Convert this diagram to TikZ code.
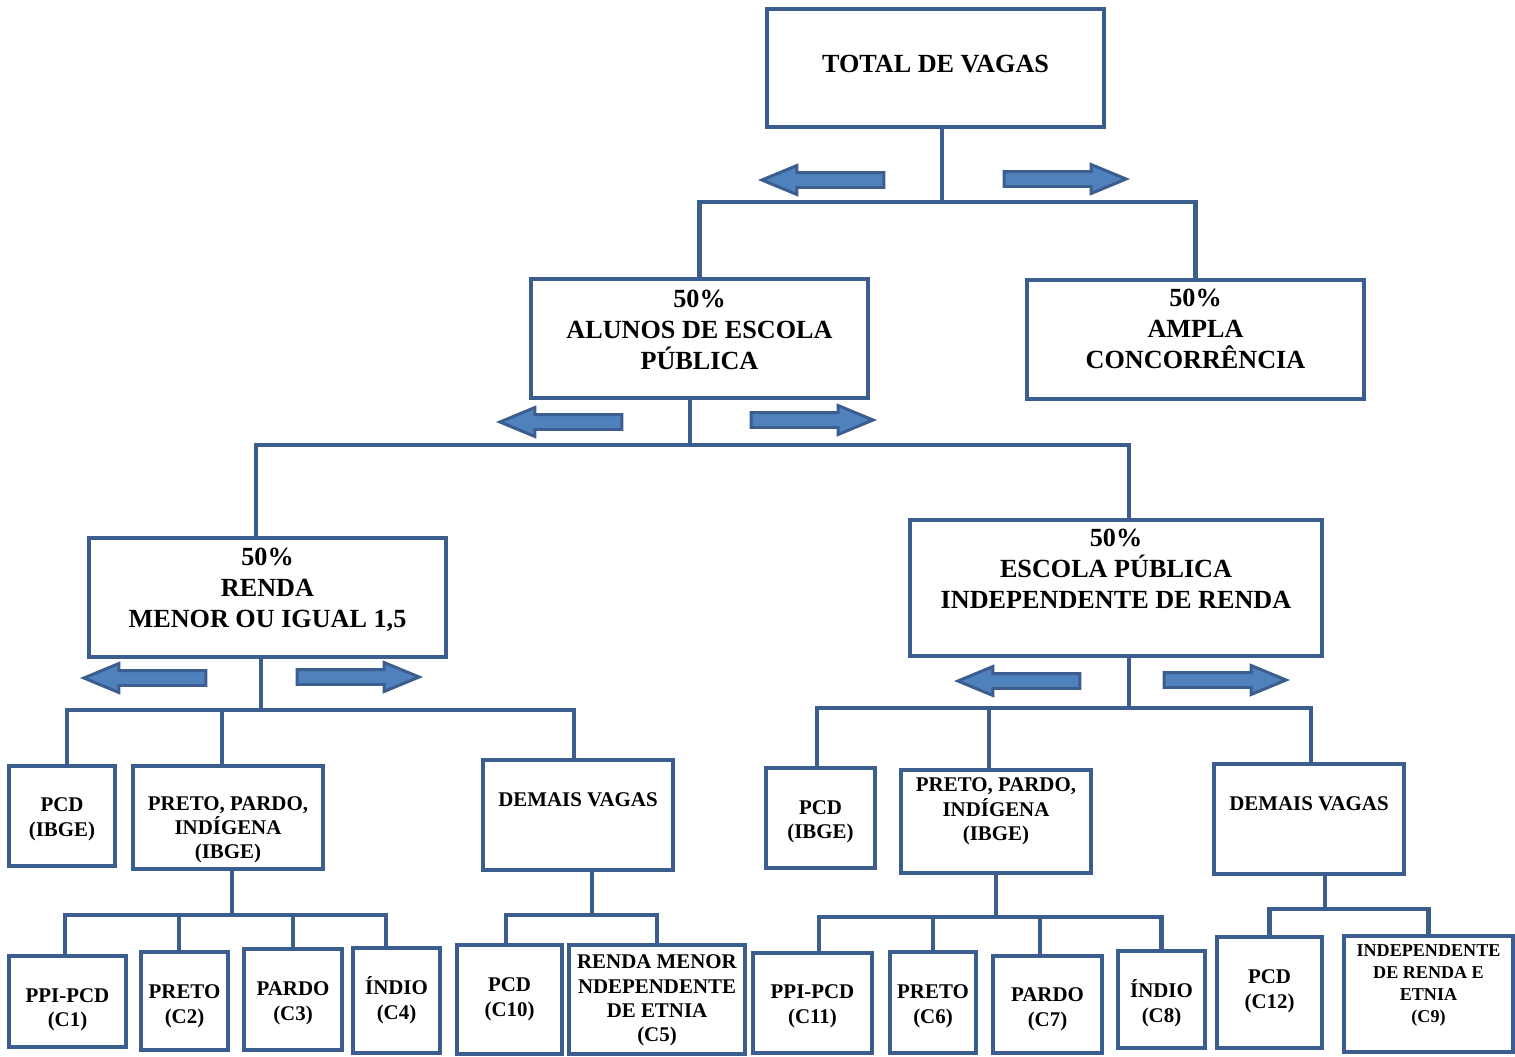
\documentclass[tikz,border=0pt]{standalone}
\usepackage{fontspec}
\setmainfont{Liberation Serif}
\usetikzlibrary{shapes.arrows}

\definecolor{boxline}{HTML}{3B5E8E}
\definecolor{arrowfill}{HTML}{4F81BD}

\newcommand{\cellbox}[4]{\parbox[c][#2][t]{#1}{\centering\vspace*{#3}#4}}

\tikzset{
  cell/.style={draw=boxline, line width=2.3pt, inner sep=0pt},
  bigtxt/.style={font=\fontsize{14.9}{17.6}\selectfont\bfseries},
  midtxt/.style={font=\fontsize{11.9}{13.8}\selectfont\bfseries},
  smalltxt/.style={font=\fontsize{10.3}{12.5}\selectfont\bfseries},
  link/.style={draw=boxline, line width=2.3pt},
  fat/.style={single arrow, draw=boxline, fill=arrowfill, line width=1.7pt,
    minimum height=2.44cm, single arrow head extend=0.14cm,
    single arrow tip angle=45, inner xsep=0pt, inner ysep=0.12cm,
    text height=0pt, text depth=0pt}
}

\begin{document}
\begin{tikzpicture}[x=0.02cm, y=-0.02cm]
            \useasboundingbox (0,0) rectangle (1515,1056);
            \node[cell, bigtxt] (total) at (935.5,68) {\cellbox{6.74cm}{2.36cm}{0.93cm}{TOTAL DE VAGAS}};
            \node[cell, bigtxt] (alunos) at (699.5,338.5) {\cellbox{6.74cm}{2.38cm}{0.22cm}{50\%\\ALUNOS DE ESCOLA\\PÚBLICA}};
            \node[cell, bigtxt] (ampla) at (1195.5,339.5) {\cellbox{6.74cm}{2.38cm}{0.19cm}{50\%\\AMPLA\\CONCORRÊNCIA}};
            \node[cell, bigtxt] (renda) at (267.5,597.5) {\cellbox{7.14cm}{2.38cm}{0.21cm}{50\%\\RENDA\\MENOR OU IGUAL 1,5}};
            \node[cell, bigtxt] (indep) at (1116,588) {\cellbox{8.24cm}{2.72cm}{0.19cm}{50\%\\ESCOLA PÚBLICA\\INDEPENDENTE DE RENDA}};
            \node[cell, midtxt] (lpcd) at (62,816) {\cellbox{2.12cm}{2cm}{0.64cm}{PCD\\(IBGE)}};
            \node[cell, midtxt] (lppi) at (228,817.5) {\cellbox{3.8cm}{2.06cm}{0.61cm}{PRETO, PARDO,\\INDÍGENA\\(IBGE)}};
            \node[cell, midtxt] (ldem) at (578,815) {\cellbox{3.8cm}{2.2cm}{0.66cm}{DEMAIS VAGAS}};
            \node[cell, midtxt] (rpcd) at (820.5,818) {\cellbox{2.18cm}{2cm}{0.65cm}{PCD\\(IBGE)}};
            \node[cell, midtxt] (rppi) at (996,821.5) {\cellbox{3.8cm}{2.06cm}{0.16cm}{PRETO, PARDO,\\INDÍGENA\\(IBGE)}};
            \node[cell, midtxt] (rdem) at (1309,819) {\cellbox{3.8cm}{2.2cm}{0.66cm}{DEMAIS VAGAS}};
            \node[cell, midtxt] (c1) at (67.5,1001.5) {\cellbox{2.34cm}{1.82cm}{0.65cm}{PPI-PCD\\(C1)}};
            \node[cell, midtxt] (c2) at (184.5,1001) {\cellbox{1.74cm}{1.96cm}{0.66cm}{PRETO\\(C2)}};
            \node[cell, midtxt] (c3) at (293,999.5) {\cellbox{1.96cm}{2.02cm}{0.66cm}{PARDO\\(C3)}};
            \node[cell, midtxt] (c4) at (396.5,1000.5) {\cellbox{1.74cm}{2.1cm}{0.58cm}{ÍNDIO\\(C4)}};
            \node[cell, midtxt] (c10) at (509.5,999.5) {\cellbox{2.1cm}{2.18cm}{0.66cm}{PCD\\(C10)}};
            \node[cell, midtxt] (c5) at (657,999.5) {\cellbox{3.52cm}{2.18cm}{0.2cm}{RENDA MENOR\\NDEPENDENTE\\DE ETNIA\\(C5)}};
            \node[cell, midtxt] (c11) at (812.5,1003) {\cellbox{2.38cm}{2cm}{0.64cm}{PPI-PCD\\(C11)}};
            \node[cell, midtxt] (c6) at (933,1002.5) {\cellbox{1.72cm}{2.02cm}{0.66cm}{PRETO\\(C6)}};
            \node[cell, midtxt] (c7) at (1047.5,1004.5) {\cellbox{2.18cm}{1.94cm}{0.64cm}{PARDO\\(C7)}};
            \node[cell, midtxt] (c8) at (1161.5,999.5) {\cellbox{1.74cm}{1.94cm}{0.58cm}{ÍNDIO\\(C8)}};
            \node[cell, midtxt] (c12) at (1269.5,992.5) {\cellbox{2.1cm}{2.22cm}{0.66cm}{PCD\\(C12)}};
            \node[cell, smalltxt] (c9) at (1428.5,994) {\cellbox{3.38cm}{2.32cm}{0.18cm}{INDEPENDENTE\\DE RENDA E\\ETNIA\\(C9)}};
            \draw[link] ([xshift=0.13cm]total.south) -- ++(0,73) coordinate (j1)
                (j1) -| (alunos.north) (j1) -| (ampla.north);
            \draw[link] ([xshift=-0.19cm]alunos.south) -- ++(0,45) coordinate (j2)
                (j2) -| ([xshift=-0.23cm]renda.north) (j2) -| ([xshift=0.26cm]indep.north);
            \draw[link] ([xshift=-0.13cm]renda.south) -- ++(0,51) coordinate (j3)
                (j3) -| ([xshift=0.1cm]lpcd.north) (j3) -| ([xshift=-0.12cm]lppi.north)
                (j3) -| ([xshift=-0.08cm]ldem.north);
            \draw[link] ([xshift=0.26cm]indep.south) -- ++(0,50) coordinate (j4)
                (j4) -| ([xshift=-0.07cm]rpcd.north) (j4) -| ([xshift=-0.14cm]rppi.north)
                (j4) -| ([xshift=0.04cm]rdem.north);
            \draw[link] ([xshift=0.08cm]lppi.south) -- ++(0,44) coordinate (j5)
                (j5) -| ([xshift=-0.05cm]c1.north) (j5) -| ([xshift=-0.11cm]c2.north)
                (j5) -| (c3.north) (j5) -| ([xshift=-0.21cm]c4.north);
            \draw[link] ([xshift=0.28cm]ldem.south) -- ++(0,43) coordinate (j6)
                (j6) -| ([xshift=-0.07cm]c10.north) (j6) -| (c5.north);
            \draw[link] (rppi.south) -- ++(0,42) coordinate (j7)
                (j7) -| ([xshift=0.13cm]c11.north) (j7) -| (c6.north)
                (j7) -| ([xshift=-0.15cm]c7.north) (j7) -| (c8.north);
            \draw[link] ([xshift=0.32cm]rdem.south) -- ++(0,33) coordinate (j8)
                (j8) -| (c12.north) (j8) -| (c9.north);
            \node[fat, shape border rotate=180, anchor=tip] (a1l) at (758,180) {};
            \node[fat, anchor=tip] (a1r) at (1130,179) {};
            \node[fat, shape border rotate=180, anchor=tip] (a2l) at (496,422) {};
            \node[fat, anchor=tip] (a2r) at (877,420) {};
            \node[fat, shape border rotate=180, anchor=tip] (a3l) at (80,678) {};
            \node[fat, anchor=tip] (a3r) at (423,677) {};
            \node[fat, shape border rotate=180, anchor=tip] (a4l) at (954,681) {};
            \node[fat, anchor=tip] (a4r) at (1290,680) {};
        \end{tikzpicture}
\end{document}
